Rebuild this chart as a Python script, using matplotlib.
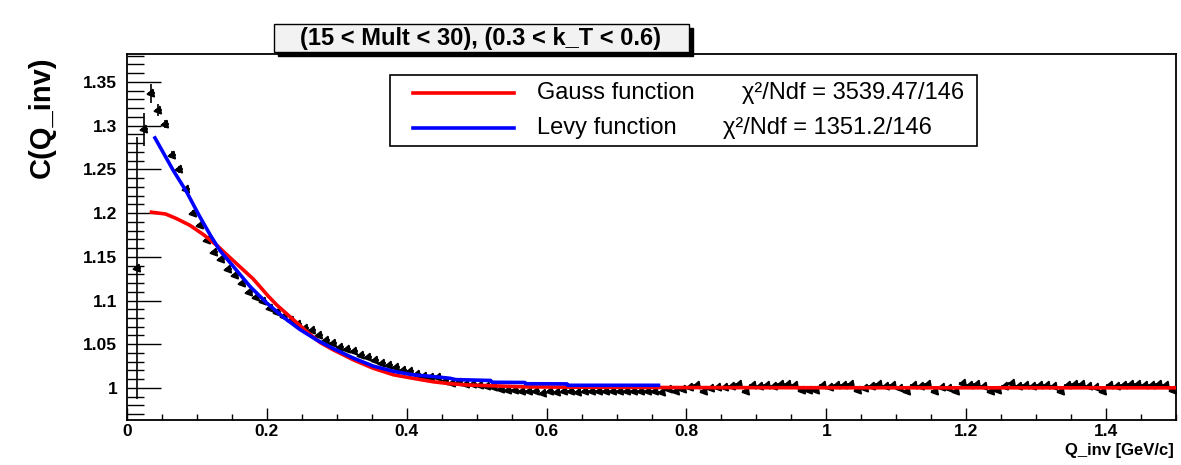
import numpy as np
import matplotlib
matplotlib.use("Agg")
import matplotlib.pyplot as plt
from matplotlib.patches import Rectangle
from matplotlib.lines import Line2D
from matplotlib.ticker import MultipleLocator

plt.rcParams['font.family'] = ['Liberation Sans', 'DejaVu Sans']

# histogram: bins of 0.01 in Q_inv, first filled bin centred at 0.015
bin_first = 0.015
bin_width = 0.01
c_vals = [
    1.137, 1.296, 1.337, 1.318, 1.302, 1.267, 1.250, 1.227, 1.200, 1.186,
    1.169, 1.156, 1.147, 1.136, 1.129, 1.120, 1.110, 1.104, 1.100, 1.091,
    1.087, 1.082, 1.078, 1.073, 1.069, 1.066, 1.060, 1.055, 1.051, 1.047,
    1.044, 1.042, 1.038, 1.035, 1.032, 1.028, 1.026, 1.024, 1.021, 1.019,
    1.016, 1.014, 1.013, 1.012, 1.008, 1.006, 1.007, 1.005, 1.004, 1.003,
    1.002, 1.001, 0.999, 0.998, 0.998, 0.997, 0.996, 0.997, 0.994, 0.996,
    0.995, 0.996, 0.996, 0.995, 0.996, 0.996, 0.997, 0.996, 0.997, 0.997,
    0.996, 0.997, 0.997, 0.996, 0.997, 0.995, 0.999, 0.997, 0.999, 1.001,
    1.003, 0.997, 1.000, 1.001, 1.001, 1.002, 1.004, 0.997, 1.003, 1.002,
    1.003, 1.002, 1.004, 1.004, 1.003, 0.998, 0.998, 0.998, 1.003, 1.001,
    1.003, 1.003, 1.004, 0.998, 1.000, 1.002, 1.004, 1.002, 1.003, 1.000,
    0.997, 1.003, 1.002, 1.004, 0.997, 1.001, 1.000, 0.997, 1.006, 1.003,
    1.004, 1.002, 0.997, 0.998, 1.002, 1.006, 1.002, 1.003, 1.002, 1.003,
    1.003, 1.002, 0.997, 1.003, 1.005, 1.004, 1.002, 1.001, 0.997, 1.003,
    1.002, 1.003, 1.004, 1.004, 1.003, 1.003, 1.005, 1.003, 0.998,
]
c_err_head = [0.150, 0.019, 0.011, 0.007, 0.005, 0.004, 0.004, 0.003, 0.003, 0.003]
c_err_rest = 0.002

gauss_q = [0.035, 0.055, 0.07, 0.09, 0.11, 0.13, 0.15, 0.165, 0.18, 0.19, 0.202, 0.214, 0.238,
           0.257, 0.276, 0.295, 0.324, 0.352, 0.381, 0.409, 0.438, 0.46, 0.486, 0.52,
           0.57, 0.65, 0.8, 1.0, 1.5]
gauss_c = [1.201, 1.199, 1.194, 1.186, 1.175, 1.162, 1.147, 1.136, 1.125, 1.116, 1.105, 1.095, 1.078,
           1.0645, 1.052, 1.0435, 1.032, 1.0225, 1.015, 1.011, 1.007, 1.005, 1.0034, 1.0025,
           1.0012, 1.0008, 1.0004, 1.0002, 1.0001]

levy_q = [0.04, 0.066, 0.085, 0.104, 0.119, 0.133, 0.152, 0.176, 0.2, 0.2235, 0.247, 0.271,
          0.295, 0.324, 0.352, 0.381, 0.409, 0.438, 0.462, 0.47, 0.52, 0.522, 0.569, 0.57,
          0.629, 0.63, 0.76]
levy_c = [1.286, 1.249, 1.2246, 1.196, 1.175, 1.157, 1.139, 1.116, 1.097, 1.081, 1.067, 1.055,
          1.045, 1.034, 1.025, 1.019, 1.015, 1.013, 1.011, 1.0095, 1.0085, 1.0065, 1.0062, 1.0048,
          1.0046, 1.003, 1.003]

title = "(15 < Mult < 30), (0.3 < k_T < 0.6)"
leg_names = ["Gauss function", "Levy function"]
leg_chi = ["\u03c7\u00b2/Ndf = 3539.47/146", "\u03c7\u00b2/Ndf = 1351.2/146"]

W, H = 1181, 465
def fx(x):
    return x / W
def fy(y):
    return 1 - y / H

fig = plt.figure(figsize=(W / 100, H / 100), dpi=100)
ax = fig.add_axes([fx(127), fy(420), (1176 - 127) / W, (420 - 54) / H])

q = bin_first + bin_width * np.arange(len(c_vals))
err = c_err_head + [c_err_rest] * (len(c_vals) - len(c_err_head))
ax.errorbar(q, c_vals, yerr=err, xerr=bin_width / 2, fmt='none', ecolor='black',
            elinewidth=1.2, capsize=0, zorder=2)
ax.plot(q, c_vals, linestyle='none', marker=(3, 0, 100), markersize=6.5, color='black', zorder=3)

ax.plot(gauss_q, gauss_c, color='#ff0000', lw=2.6, zorder=4)
ax.plot(levy_q, levy_c, color='#0000ff', lw=2.6, zorder=4)

ax.set_xlim(0, 1.5)
ax.set_ylim(0.9633, 1.382)
ax.xaxis.set_minor_locator(MultipleLocator(0.05))
ax.yaxis.set_minor_locator(MultipleLocator(0.01))
ax.set_xticks([0, 0.2, 0.4, 0.6, 0.8, 1.0, 1.2, 1.4])
ax.set_xticklabels(["0", "0.2", "0.4", "0.6", "0.8", "1", "1.2", "1.4"])
ax.set_yticks([1.0, 1.05, 1.1, 1.15, 1.2, 1.25, 1.3, 1.35])
ax.set_yticklabels(["1", "1.05", "1.1", "1.15", "1.2", "1.25", "1.3", "1.35"])
ax.tick_params(axis='both', which='both', direction='in', top=False, right=False, width=1.0)
ax.tick_params(axis='y', which='major', length=24.5, pad=7)
ax.tick_params(axis='y', which='minor', length=12.5)
ax.tick_params(axis='x', which='major', length=8.5, pad=3)
ax.tick_params(axis='x', which='minor', length=4.5)
for lab in ax.get_xticklabels() + ax.get_yticklabels():
    lab.set_fontsize(12.5)
    lab.set_fontweight('bold')
for s in ax.spines.values():
    s.set_linewidth(1.3)

# axis titles
fig.text(fx(42), fy(56), "C(Q_inv)", rotation=90, ha='center', va='top',
         fontsize=21, fontweight='bold')
fig.text(fx(1174), fy(450), "Q_inv [GeV/c]", ha='right', va='center',
         fontsize=12, fontweight='bold')

# title box with shadow
fig.add_artist(Rectangle((fx(278), fy(56)), (689 - 274) / W, (52 - 24) / H,
                         transform=fig.transFigure, facecolor='black', edgecolor='black', lw=1))
fig.add_artist(Rectangle((fx(274), fy(52)), (689 - 274) / W, (52 - 24) / H,
                         transform=fig.transFigure, facecolor='#f2f2f2', edgecolor='black', lw=1))
fig.text(fx(481), fy(38), title, ha='center', va='center', fontsize=17, fontweight='bold')

# legend box
fig.add_artist(Rectangle((fx(390), fy(146)), (977 - 390) / W, (146 - 75) / H,
                         transform=fig.transFigure, facecolor='white', edgecolor='black', lw=1.2))
rows_y = [93, 128]
line_cols = ['#ff0000', '#0000ff']
chi_x = [742, 723]
for i in range(2):
    fig.add_artist(Line2D([fx(413), fx(514)], [fy(rows_y[i]), fy(rows_y[i])],
                          transform=fig.transFigure, color=line_cols[i], lw=2.6))
    fig.text(fx(537), fy(rows_y[i]), leg_names[i], ha='left', va='center', fontsize=17)
    fig.text(fx(chi_x[i]), fy(rows_y[i]), leg_chi[i], ha='left', va='center', fontsize=17)

fig.savefig("out.png", dpi=100)
